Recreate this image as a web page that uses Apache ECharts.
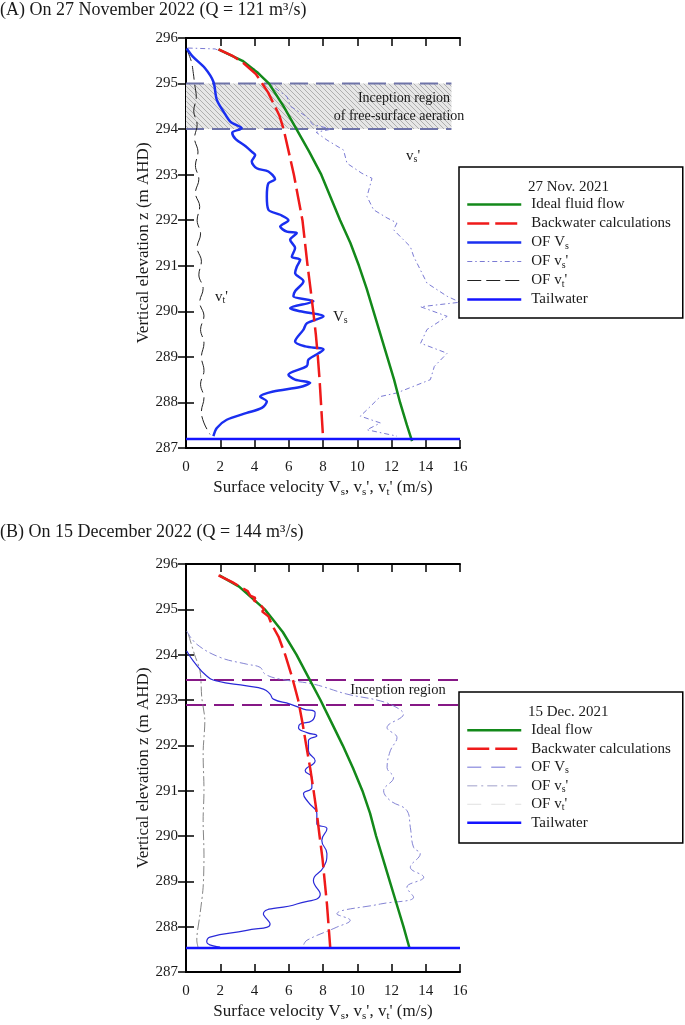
<!DOCTYPE html>
<html><head><meta charset="utf-8">
<script src="https://cdn.jsdelivr.net/npm/echarts@6/dist/echarts.min.js"></script>
<style>html,body{margin:0;padding:0;background:#fff}#c{width:685px;height:1025px}</style>
</head><body><div id="c"></div>
<script>
// ---------- DATA ----------
const xTicks = [0, 2, 4, 6, 8, 10, 12, 14, 16];
const zTicks = [287, 288, 289, 290, 291, 292, 293, 294, 295, 296];

// (A) 27 Nov
const A_idealZ = [295.75, 295.5, 295.25, 295.0, 294.5, 294.0, 293.5, 293.0, 292.5, 292.0, 291.5, 291.0, 290.5, 290.0, 289.5, 289.0, 288.5, 288.0, 287.5, 287.15];
const A_idealV = [1.9, 3.3, 4.15, 4.85, 5.7, 6.45, 7.2, 7.9, 8.45, 9.0, 9.6, 10.1, 10.55, 10.95, 11.35, 11.75, 12.15, 12.5, 12.9, 13.2];
const A_bwZ = [295.75, 295.6, 295.45, 295.37, 295.2, 295.0, 294.8, 294.57, 294.3, 294.0, 293.5, 293.0, 292.5, 292.0, 291.5, 291.0, 290.5, 290.0, 289.5, 289.0, 288.5, 288.0, 287.5, 287.25];
const A_bwV = [1.9, 2.75, 3.35, 3.6, 4.1, 4.45, 4.8, 5.1, 5.45, 5.7, 6.0, 6.3, 6.55, 6.8, 6.95, 7.1, 7.27, 7.43, 7.58, 7.7, 7.8, 7.88, 7.96, 8.0];
const A_VsZ = [295.77, 295.59, 295.34, 295.04, 294.64, 294.38, 294.16, 294.02, 293.92, 293.78, 293.62, 293.5, 293.43, 293.29, 293.14, 293.07, 292.9, 292.81, 292.52, 292.23, 292.12, 292.0, 291.86, 291.75, 291.72, 291.57, 291.39, 291.2, 291.13, 290.98, 290.84, 290.66, 290.44, 290.33, 290.22, 290.07, 290.0, 289.89, 289.74, 289.6, 289.34, 289.23, 289.16, 288.94, 288.8, 288.61, 288.5, 288.43, 288.34, 288.24, 288.13, 288.02, 287.88, 287.77, 287.62, 287.44, 287.26];
const A_VsV = [0.04, 0.4, 1.1, 1.6, 1.8, 2.2, 2.6, 3.25, 2.7, 2.9, 3.5, 3.85, 4.04, 3.84, 4.13, 4.81, 5.2, 4.81, 4.72, 4.81, 5.5, 5.98, 5.5, 5.89, 6.47, 6.08, 6.37, 6.18, 6.67, 6.47, 6.37, 6.86, 6.37, 6.27, 7.44, 6.08, 6.67, 8.03, 7.06, 6.86, 6.37, 6.96, 8.03, 7.15, 7.06, 5.98, 6.37, 7.25, 6.67, 5.1, 4.33, 4.72, 4.43, 3.55, 2.38, 1.8, 1.6];
const A_vspZ = [295.78, 295.76, 295.55, 295.4, 295.3, 295.1, 294.93, 294.71, 294.5, 294.27, 294.1, 294.0, 293.93, 293.76, 293.54, 293.25, 293.03, 292.92, 292.52, 292.23, 292.05, 291.94, 291.79, 291.57, 291.42, 291.2, 290.9, 290.62, 290.33, 290.2, 290.1, 289.89, 289.6, 289.3, 289.08, 288.79, 288.5, 288.21, 288.13, 287.84, 287.7, 287.55, 287.4, 287.26];
const A_vspV = [0.1, 1.7, 3.0, 3.6, 4.1, 4.6, 5.1, 5.9, 6.1, 7.06, 7.4, 8.5, 7.6, 8.23, 9.2, 9.4, 10.27, 10.86, 10.57, 10.95, 11.74, 12.32, 12.12, 12.7, 13.1, 13.3, 13.7, 14.07, 15.25, 16.0, 13.7, 15.25, 14.07, 13.7, 15.25, 14.5, 14.27, 12.32, 11.35, 10.57, 10.18, 11.35, 10.57, 12.32];
const A_vtpZ = [295.78, 295.5, 295.22, 295.0, 294.7, 294.4, 294.1, 293.8, 293.5, 293.2, 292.9, 292.6, 292.3, 292.0, 291.7, 291.4, 291.1, 290.8, 290.5, 290.2, 289.9, 289.6, 289.3, 289.0, 288.7, 288.4, 288.1, 287.8, 287.55, 287.3];
const A_vtpV = [0.0, 0.3, 0.43, 0.5, 0.6, 0.45, 0.65, 0.5, 0.7, 0.55, 0.75, 0.55, 0.8, 0.65, 0.85, 0.65, 0.9, 0.75, 1.0, 0.8, 1.05, 0.85, 1.05, 0.9, 1.05, 0.85, 1.05, 0.9, 1.05, 1.4];
const A_tailZ = 287.2;
const A_inceptionZ = [294.0, 295.0];
const A_inceptionV = [0, 15.5];

// (B) 15 Dec
const B_idealZ = [295.75, 295.5, 295.0, 294.5, 294.0, 293.5, 293.0, 292.5, 292.0, 291.5, 291.0, 290.5, 290.0, 289.5, 289.0, 288.5, 288.0, 287.53];
const B_idealV = [1.95, 3.1, 4.6, 5.65, 6.45, 7.15, 7.85, 8.5, 9.15, 9.75, 10.3, 10.75, 11.1, 11.5, 11.9, 12.3, 12.7, 13.05];
const B_bwZ = [295.75, 295.6, 295.4, 295.3, 295.25, 295.2, 295.12, 295.08, 295.0, 294.95, 294.85, 294.67, 294.4, 294.0, 293.5, 293.0, 292.5, 292.0, 291.5, 291.0, 290.5, 290.0, 289.5, 289.0, 288.5, 288.0, 287.55];
const B_bwV = [1.9, 2.7, 3.6, 3.75, 4.05, 3.95, 4.3, 4.2, 4.55, 4.45, 4.81, 5.0, 5.4, 5.79, 6.2, 6.55, 6.8, 7.02, 7.25, 7.45, 7.64, 7.8, 7.97, 8.1, 8.23, 8.33, 8.42];
const B_VsZ = [294.08, 293.86, 293.53, 293.42, 293.31, 293.24, 293.13, 293.02, 292.91, 292.8, 292.72, 292.54, 292.47, 292.39, 292.28, 292.21, 292.1, 291.88, 291.66, 291.44, 291.29, 291.07, 290.93, 290.74, 290.49, 290.27, 290.16, 289.9, 289.61, 289.31, 289.02, 288.72, 288.5, 288.28, 288.06, 287.92, 287.77, 287.66, 287.55];
const B_VsV = [0.04, 0.43, 1.21, 1.8, 3.55, 4.52, 4.91, 5.1, 6.08, 6.86, 7.54, 7.35, 6.67, 6.57, 7.06, 7.64, 7.15, 7.15, 7.54, 6.96, 7.35, 7.35, 6.86, 7.15, 7.64, 7.64, 8.23, 7.93, 8.23, 8.03, 7.44, 7.84, 6.47, 4.52, 4.91, 3.55, 1.4, 1.21, 1.99];
const B_vspZ = [294.52, 294.23, 293.94, 293.79, 293.72, 293.57, 293.46, 293.35, 293.13, 292.98, 292.83, 292.69, 292.39, 292.17, 291.88, 291.51, 291.29, 291.0, 290.78, 290.56, 290.19, 289.75, 289.61, 289.31, 289.09, 288.87, 288.65, 288.5, 288.28, 288.14, 287.99, 287.7, 287.59];
const B_vspV = [0.04, 0.63, 1.99, 3.55, 4.33, 4.62, 5.5, 7.44, 9.4, 11.35, 12.32, 12.7, 11.74, 12.32, 11.93, 11.74, 12.12, 11.54, 11.93, 12.9, 13.1, 13.29, 13.68, 13.1, 13.88, 12.9, 13.29, 11.35, 8.81, 9.59, 8.81, 7.06, 6.86];
const B_vtpZ = [294.45, 294.0, 293.64, 293.06, 292.54, 291.81, 291.0, 290.34, 289.6, 288.87, 288.28, 287.7, 287.55];
const B_vtpV = [0.14, 0.5, 0.82, 0.92, 1.1, 1.0, 1.05, 1.0, 1.05, 1.0, 0.82, 0.63, 0.7];
const B_tailZ = 287.53;
const B_inceptionZ = [292.89, 293.44];
const B_inceptionV = [0, 16];

// ---------- helpers ----------
const pairs = (V, Z) => V.map((v, i) => [v, Z[i]]);
const FF = 'Liberation Serif';
const TXT = '#1a1a1a';

function hatchPattern() {
  const s = 5, c = document.createElement('canvas');
  c.width = s; c.height = s;
  const g = c.getContext('2d');
  g.fillStyle = '#e6e6e6'; g.fillRect(0, 0, s, s);
  g.strokeStyle = '#a8a8a8'; g.lineWidth = 0.9;
  g.beginPath();
  [-s, 0, s].forEach(k => { g.moveTo(k, 0); g.lineTo(k + s, s); });
  g.stroke();
  return c;
}

const subRich = {
  n: { fontFamily: FF, fontSize: 17, color: TXT, lineHeight: 22 },
  s: { fontFamily: FF, fontSize: 11, color: TXT, lineHeight: 22, padding: [8, 0, 0, 0] }
};

function xAxes(gi) {
  return [
    { gridIndex: gi, type: 'value', position: 'bottom', min: xTicks[0], max: xTicks[xTicks.length - 1], interval: 2,
      axisLine: { show: true, lineStyle: { color: '#000', width: 2 } },
      axisTick: { show: true, inside: true, length: 8, lineStyle: { color: '#000', width: 1.5 } },
      axisLabel: { fontFamily: FF, fontSize: 15, color: TXT, margin: 12 },
      splitLine: { show: false },
      name: '{n|Surface velocity V}{s|s}{n|, v}{s|s}{n|\', v}{s|t}{n|\' (m/s)}',
      nameLocation: 'middle', nameGap: 29,
      nameTextStyle: { rich: subRich } },
    { gridIndex: gi, type: 'value', position: 'top', min: xTicks[0], max: xTicks[xTicks.length - 1], interval: 2,
      axisLine: { show: true, lineStyle: { color: '#000', width: 2 } },
      axisTick: { show: true, inside: true, length: 8, lineStyle: { color: '#000', width: 1.5 } },
      axisLabel: { show: false }, splitLine: { show: false } }
  ];
}
function yAxes(gi) {
  return [
    { gridIndex: gi, type: 'value', position: 'left', min: zTicks[0], max: zTicks[zTicks.length - 1], interval: 1,
      axisLine: { show: true, lineStyle: { color: '#000', width: 2 } },
      axisTick: { show: true, inside: true, length: 8, lineStyle: { color: '#000', width: 1.5 } },
      axisLabel: { fontFamily: FF, fontSize: 15, color: TXT, margin: 8 },
      splitLine: { show: false },
      name: 'Vertical elevation z (m AHD)', nameLocation: 'middle', nameGap: 34,
      nameTextStyle: { fontFamily: FF, fontSize: 17, color: TXT } },
    { gridIndex: gi, type: 'value', position: 'right', min: zTicks[0], max: zTicks[zTicks.length - 1], interval: 1,
      axisLine: { show: true, lineStyle: { color: '#000', width: 2 } },
      axisTick: { show: true, inside: true, length: 8, lineStyle: { color: '#000', width: 1.5 } },
      axisLabel: { show: false }, splitLine: { show: false } }
  ];
}

function line(id, gi, V, Z, color, width, type, z, smooth) {
  return { id: id, name: id, type: 'line', xAxisIndex: gi * 2, yAxisIndex: gi * 2,
    data: pairs(V, Z), symbol: 'none', smooth: smooth || false, z: z || 3,
    lineStyle: { color: color, width: width, type: type || 'solid' },
    itemStyle: { color: color }, emphasis: { disabled: true }, animation: false };
}

const labelsA = {
  A_ideal: 'Ideal fluid flow', A_bw: 'Backwater calculations', A_Vs: 'OF V{s|s}',
  A_vsp: 'OF v{s|s}\'', A_vtp: 'OF v{s|t}\'', A_tail: 'Tailwater'
};
const labelsB = {
  B_ideal: 'Ideal flow', B_bw: 'Backwater calculations', B_Vs: 'OF V{s|s}',
  B_vsp: 'OF v{s|s}\'', B_vtp: 'OF v{s|t}\'', B_tail: 'Tailwater'
};

function legend(top, labels, data, pad, lh) {
  return {
    data: data, orient: 'vertical', left: 459, top: top,
    padding: pad, itemWidth: 54, itemHeight: 12, itemGap: 0,
    backgroundColor: '#fff', borderColor: '#000', borderWidth: 1.5, borderRadius: 0,
    selectedMode: false, z: 10,
    itemStyle: { opacity: 0 },
    lineStyle: { width: 'inherit' },
    formatter: n => labels[n],
    textStyle: { fontFamily: FF, fontSize: 15, color: TXT, lineHeight: lh, padding: [0, 0, 0, 5],
      rich: { s: { fontFamily: FF, fontSize: 10, color: TXT, lineHeight: lh, padding: [7, 0, 0, 0] } } }
  };
}

const tail = (id, gi, zv) => line(id, gi, [xTicks[0], xTicks[xTicks.length - 1]], [zv, zv], '#1414ff', 2.5, 'solid', 5);
const annRich = {
  n: { fontFamily: FF, fontSize: 15, fill: TXT, lineHeight: 18 },
  s: { fontFamily: FF, fontSize: 10, fill: TXT, lineHeight: 18, padding: [7, 0, 0, 0] }
};

const series = [
  // ---- A ----
  Object.assign(line('A_incLo', 0, A_inceptionV, [A_inceptionZ[0], A_inceptionZ[0]], '#6e73a8', 2, [18, 8], 2), {
    markArea: { silent: true, itemStyle: { color: { image: hatchPattern(), repeat: 'repeat' } },
      data: [[{ coord: [A_inceptionV[0], A_inceptionZ[0]] }, { coord: [A_inceptionV[1], A_inceptionZ[1]] }]] }
  }),
  line('A_incHi', 0, A_inceptionV, [A_inceptionZ[1], A_inceptionZ[1]], '#6e73a8', 2, [18, 8], 2),
  line('A_vtp', 0, A_vtpV, A_vtpZ, '#222', 1, [14, 5], 3, 0.4),
  line('A_vsp', 0, A_vspV, A_vspZ, '#7b7bd4', 1, [5, 3, 1.5, 3], 3),
  line('A_Vs', 0, A_VsV, A_VsZ, '#1a2ff0', 2.5, 'solid', 4, 0.3),
  line('A_ideal', 0, A_idealV, A_idealZ, '#13891a', 2.5, 'solid', 4),
  line('A_bw', 0, A_bwV, A_bwZ, '#ef1a1a', 2.5, [22, 6], 4),
  tail('A_tail', 0, A_tailZ),
  // ---- B ----
  line('B_incLo', 1, B_inceptionV, [B_inceptionZ[0], B_inceptionZ[0]], '#861886', 2, [20, 8], 2),
  line('B_incHi', 1, B_inceptionV, [B_inceptionZ[1], B_inceptionZ[1]], '#861886', 2, [20, 8], 2),
  line('B_vtp', 1, B_vtpV, B_vtpZ, '#777', 0.9, [10, 3, 2, 3], 3, 0.3),
  line('B_vsp', 1, B_vspV, B_vspZ, '#8484d4', 1, [8, 3, 2, 3], 3, 0.4),
  line('B_Vs', 1, B_VsV, B_VsZ, '#2a2ad8', 1.2, 'solid', 4, 0.5),
  line('B_ideal', 1, B_idealV, B_idealZ, '#13891a', 2.5, 'solid', 4),
  line('B_bw', 1, B_bwV, B_bwZ, '#ef1a1a', 2.5, [22, 6], 4),
  tail('B_tail', 1, B_tailZ)
];

const option = {
  animation: false,
  backgroundColor: '#fff',
  grid: [
    { left: 186, top: 38, width: 274, height: 410 },
    { left: 186, top: 564, width: 274, height: 408 }
  ],
  xAxis: xAxes(0).concat(xAxes(1)),
  yAxis: yAxes(0).concat(yAxes(1)),
  title: [
    { text: '(A) On 27 November 2022 (Q = 121 m³/s)', left: 0, top: 1, padding: 0,
      textStyle: { fontFamily: FF, fontSize: 18, fontWeight: 'normal', color: TXT } },
    { text: '(B) On 15 December 2022 (Q = 144 m³/s)', left: 0, top: 523, padding: 0,
      textStyle: { fontFamily: FF, fontSize: 18, fontWeight: 'normal', color: TXT } }
  ],
  legend: [
    legend(167, labelsA, ['A_ideal', 'A_bw', 'A_Vs', 'A_vsp', 'A_vtp', 'A_tail'], [28, 12, 9, 7], 19),
    legend(692, labelsB, [
      'B_ideal', 'B_bw',
      { name: 'B_Vs', lineStyle: { type: [14, 10], color: '#a0a0e4', width: 1.5 } },
      { name: 'B_vsp', lineStyle: { type: [10, 4, 2, 4], color: '#c0c0dc', width: 1.5 } },
      { name: 'B_vtp', lineStyle: { type: [14, 10], color: '#e0e0e0', width: 1 } },
      'B_tail'], [29, 12, 11, 7], 18.5)
  ],
  graphic: [
    { type: 'text', x: 528, y: 187, z: 100, style: { text: '27 Nov. 2021', fontFamily: FF, fontSize: 15, fill: TXT, verticalAlign: 'middle' } },
    { type: 'text', x: 528, y: 712, z: 100, style: { text: '15 Dec. 2021', fontFamily: FF, fontSize: 15, fill: TXT, verticalAlign: 'middle' } },
    { type: 'text', x: 404, y: 98, z: 100, style: { text: 'Inception region', fontFamily: FF, fontSize: 14, fill: TXT, align: 'center', verticalAlign: 'middle' } },
    { type: 'text', x: 399, y: 116, z: 100, style: { text: 'of free-surface aeration', fontFamily: FF, fontSize: 14, fill: TXT, align: 'center', verticalAlign: 'middle' } },
    { type: 'text', x: 398, y: 690, z: 100, style: { text: 'Inception region', fontFamily: FF, fontSize: 14.5, fill: TXT, align: 'center', verticalAlign: 'middle' } },
    { type: 'text', x: 406, y: 147, z: 100, style: { text: '{n|v}{s|s}{n|\'}', rich: annRich } },
    { type: 'text', x: 215, y: 288, z: 100, style: { text: '{n|v}{s|t}{n|\'}', rich: annRich } },
    { type: 'text', x: 333, y: 308, z: 100, style: { text: '{n|V}{s|s}', rich: annRich } }
  ],
  series: series
};

const chart = echarts.init(document.getElementById('c'), null, { renderer: 'canvas' });
chart.setOption(option);
</script></body></html>
